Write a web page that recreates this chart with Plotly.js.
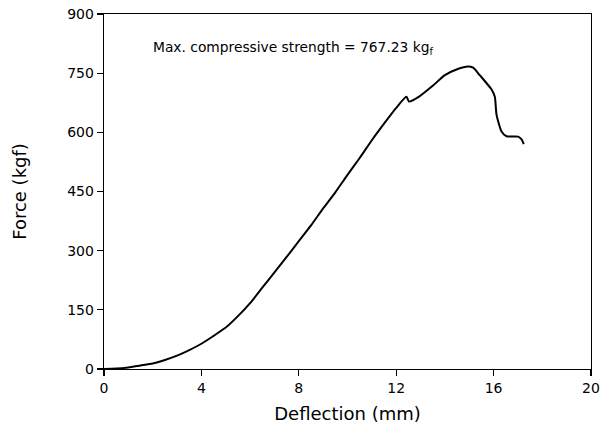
<!DOCTYPE html>
<html>
<head>
<meta charset="utf-8">
<script src="https://cdn.plot.ly/plotly-3.0.1.min.js"></script>
<style>html,body{margin:0;padding:0;background:#fff;}#chart{width:600px;height:434px;}</style>
</head>
<body>
<div id="chart"></div>
<script>
const deflection = [0, 0.5, 1.0, 1.5, 2.0, 2.5, 3.0, 3.5, 4.0, 4.5, 5.0, 5.5, 6.0, 6.5, 7.0, 7.5, 8.0, 8.5, 9.0, 9.5, 10.0, 10.5, 11.0, 11.5, 12.0, 12.42, 12.53, 12.97, 13.5, 14.0, 14.5, 14.95, 15.16, 15.43, 15.91, 16.05, 16.12, 16.32, 16.53, 17.01, 17.15, 17.24];
const force = [0, 1, 4, 9, 14, 23, 34, 48, 64, 84, 105, 134, 167, 206, 245, 284, 324, 364, 407, 448, 492, 535, 580, 622, 662, 690, 678, 692, 718, 745, 760, 767, 764, 745, 709, 690, 645, 603, 590, 589, 582, 570];
const xTicks = [0, 4, 8, 12, 16, 20];
const yTicks = [0, 150, 300, 450, 600, 750, 900];
const note = "Max. compressive strength = 767.23 kg<sub>f</sub>";

const FONT = 'DejaVu Sans, Liberation Sans, Arial, sans-serif';
const trace = {
  x: deflection, y: force, type: 'scatter', mode: 'lines',
  line: {color: '#000', width: 2, shape: 'spline', smoothing: 0.6},
  hoverinfo: 'none'
};
const axisCommon = {
  showgrid: false, zeroline: false, showline: true, mirror: true,
  linecolor: '#000', linewidth: 1.3, ticks: 'outside', ticklen: 6, tickwidth: 1.3,
  tickcolor: '#000', tickfont: {family: FONT, size: 14, color: '#000'}
};
const layout = {
  width: 600, height: 434,
  margin: {l: 104, r: 9, t: 14, b: 65},
  paper_bgcolor: '#fff', plot_bgcolor: '#fff',
  showlegend: false,
  xaxis: Object.assign({}, axisCommon, {
    range: [0, 20], tickvals: xTicks, ticktext: xTicks.map(String),
    title: {text: 'Deflection (mm)', font: {family: FONT, size: 18, color: '#000'}, standoff: 12}
  }),
  yaxis: Object.assign({}, axisCommon, {
    range: [0, 900], tickvals: yTicks, ticktext: yTicks.map(String),
    title: {text: 'Force (kgf)', font: {family: FONT, size: 18, color: '#000'}, standoff: 36}
  }),
  annotations: [{
    text: note, xref: 'paper', yref: 'paper', x: 0.097, y: 0.905,
    xanchor: 'left', yanchor: 'middle', showarrow: false,
    font: {family: FONT, size: 13.8, color: '#000'}
  }]
};
Plotly.newPlot('chart', [trace], layout, {staticPlot: true, displayModeBar: false});
</script>
</body>
</html>
